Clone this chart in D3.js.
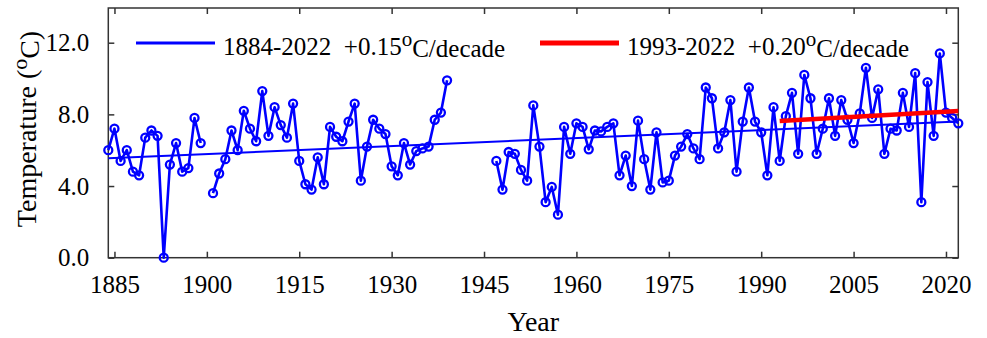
<!DOCTYPE html>
<html>
<head>
<meta charset="utf-8">
<script src="https://cdn.jsdelivr.net/npm/d3@7"></script>
<style>
  html, body { margin: 0; padding: 0; background: #fff; }
  svg { display: block; }
  text { font-family: "Liberation Serif", "Times New Roman", serif; fill: #000; }
</style>
</head>
<body>
<svg id="chart" width="987" height="338"></svg>
<script>
// ---- data ----
const years = d3.range(1884, 2023);
const temps = [
  6.0, 7.2, 5.4, 6.0, 4.8, 4.6, 6.7, 7.1, 6.8, 0.0,      // 1884-1893
  5.2, 6.4, 4.8, 5.0, 7.8, 6.4, null, 3.6, 4.7, 5.5,     // 1894-1903
  7.1, 6.0, 8.2, 7.2, 6.5, 9.3, 6.8, 8.4, 7.4, 6.7,      // 1904-1913
  8.6, 5.4, 4.1, 3.8, 5.6, 4.1, 7.3, 6.75, 6.5, 7.6,     // 1914-1923
  8.6, 4.3, 6.2, 7.7, 7.2, 6.9, 5.1, 4.6, 6.4, 5.2,      // 1924-1933
  5.95, 6.1, 6.2, 7.7, 8.1, 9.9, null, null, null, null, // 1934-1943
  null, null, null, 5.4, 3.8, 5.9, 5.8, 4.9, 4.3, 8.5,   // 1944-1953
  6.2, 3.1, 3.95, 2.4, 7.3, 5.8, 7.5, 7.3, 6.05, 7.1,    // 1954-1963
  7.05, 7.3, 7.5, 4.6, 5.7, 4.0, 7.65, 5.5, 3.8, 7.0,    // 1964-1973
  4.2, 4.3, 5.7, 6.2, 6.9, 6.1, 5.5, 9.5, 8.9, 6.1,      // 1974-1983
  7.0, 8.8, 4.8, 7.6, 9.5, 7.6, 7.0, 4.6, 8.4, 5.4,      // 1984-1993
  7.9, 9.2, 5.8, 10.2, 8.9, 5.8, 7.2, 8.9, 6.8, 8.8,     // 1994-2003
  7.7, 6.4, 8.05, 10.6, 7.8, 9.4, 5.8, 7.2, 7.1, 9.2,    // 2004-2013
  7.3, 10.3, 3.1, 9.8, 6.8, 11.4, 8.1, 7.8, 7.5          // 2014-2022
];
const trendLongYears = [1884, 2022];
const trendLongValues = [5.55, 7.6];
const trendShortYears = [1993, 2022];
const trendShortValues = [7.63, 8.19];
const xTicks = [1885, 1900, 1915, 1930, 1945, 1960, 1975, 1990, 2005, 2020];
const yTicks = [0, 4, 8, 12];
const legendLabels = [
  {range: "1884-2022", rate: "+0.15", color: "#0000ff"},
  {range: "1993-2022", rate: "+0.20", color: "#ff0000"}
];

// ---- layout ----
const svg = d3.select("#chart");
const pLeft = 108.3, pRight = 958.3, pTop = 8, pBottom = 257.7;

const x = d3.scaleLinear().domain([1884, 2022]).range([pLeft, pRight]);
const y = d3.scaleLinear().domain([0, 12]).range([pBottom, 42.7]);

const data = years.map((yr, i) => ({year: yr, value: temps[i]}));

// frame
svg.append("rect")
  .attr("x", pLeft).attr("y", pTop)
  .attr("width", pRight - pLeft).attr("height", pBottom - pTop)
  .attr("fill", "none").attr("stroke", "#333").attr("stroke-width", 1.5);

const tickLen = 6;
const xAxisB = d3.axisBottom(x).tickValues(xTicks).tickFormat(d3.format("d"))
  .tickSizeInner(-tickLen).tickSizeOuter(0).tickPadding(18);
const gxb = svg.append("g").attr("transform", `translate(0,${pBottom})`).call(xAxisB);
const xAxisT = d3.axisTop(x).tickValues(xTicks).tickFormat("")
  .tickSizeInner(-tickLen).tickSizeOuter(0);
const gxt = svg.append("g").attr("transform", `translate(0,${pTop})`).call(xAxisT);
const yAxisL = d3.axisLeft(y).tickValues(yTicks).tickFormat(d3.format(".1f"))
  .tickSizeInner(-tickLen).tickSizeOuter(0).tickPadding(19);
const gyl = svg.append("g").attr("transform", `translate(${pLeft},0)`).call(yAxisL);
const yAxisR = d3.axisRight(y).tickValues(yTicks).tickFormat("")
  .tickSizeInner(-tickLen).tickSizeOuter(0);
const gyr = svg.append("g").attr("transform", `translate(${pRight},0)`).call(yAxisR);

[gxb, gxt, gyl, gyr].forEach(g => {
  g.select(".domain").remove();
  g.selectAll(".tick line").attr("stroke", "#333").attr("stroke-width", 1.5);
  g.selectAll(".tick text")
    .style("font-family", '"Liberation Serif", "Times New Roman", serif')
    .style("font-size", "25px").attr("fill", "#000");
});
gyl.selectAll(".tick text").attr("dy", "0.33em");
gxb.selectAll(".tick text").attr("dy", "0.71em");

// long trend line
svg.append("path")
  .datum(trendLongYears.map((yr, i) => [yr, trendLongValues[i]]))
  .attr("d", d3.line().x(d => x(d[0])).y(d => y(d[1])))
  .attr("stroke", "#0000ff").attr("stroke-width", 2).attr("fill", "none");

// data line
svg.append("path")
  .datum(data)
  .attr("d", d3.line().defined(d => d.value !== null).x(d => x(d.year)).y(d => y(d.value)))
  .attr("stroke", "#0000ff").attr("stroke-width", 2.6).attr("fill", "none")
  .attr("stroke-linejoin", "round");

// markers
svg.append("g").selectAll("circle")
  .data(data.filter(d => d.value !== null))
  .join("circle")
  .attr("cx", d => x(d.year)).attr("cy", d => y(d.value)).attr("r", 4)
  .attr("fill", "none").attr("stroke", "#0000ff").attr("stroke-width", 2.3);

// short (red) trend
svg.append("path")
  .datum(trendShortYears.map((yr, i) => [yr, trendShortValues[i]]))
  .attr("d", d3.line().x(d => x(d[0])).y(d => y(d[1])))
  .attr("stroke", "#ff0000").attr("stroke-width", 4.5).attr("fill", "none");

// legend
const legendPos = [{x1: 136, x2: 215, tx: 223, w: 3}, {x1: 540, x2: 619, tx: 627, w: 5}];
legendLabels.forEach((L, i) => {
  const p = legendPos[i];
  svg.append("line").attr("x1", p.x1).attr("x2", p.x2).attr("y1", 43).attr("y2", 43)
    .attr("stroke", L.color).attr("stroke-width", p.w);
  const t = svg.append("text").attr("x", p.tx).attr("y", 55)
    .style("font-size", "25px");
  t.append("tspan").text(L.range + "\u00a0\u00a0" + L.rate);
  t.append("tspan").attr("dy", "-0.42em").style("font-size", "21px").text("o");
  t.append("tspan").attr("dy", "0.42em").text("C/decade");
});

// axis titles
svg.append("text").attr("x", (pLeft + pRight) / 2).attr("y", 331)
  .attr("text-anchor", "middle").style("font-size", "28px").text("Year");

const yt = svg.append("text")
  .attr("transform", `translate(36,129) rotate(-90)`)
  .attr("text-anchor", "middle").style("font-size", "28px");
yt.append("tspan").text("Temperature (");
yt.append("tspan").attr("dy", "-0.42em").style("font-size", "22px").text("o");
yt.append("tspan").attr("dy", "0.42em").text("C)");
</script>
</body>
</html>
